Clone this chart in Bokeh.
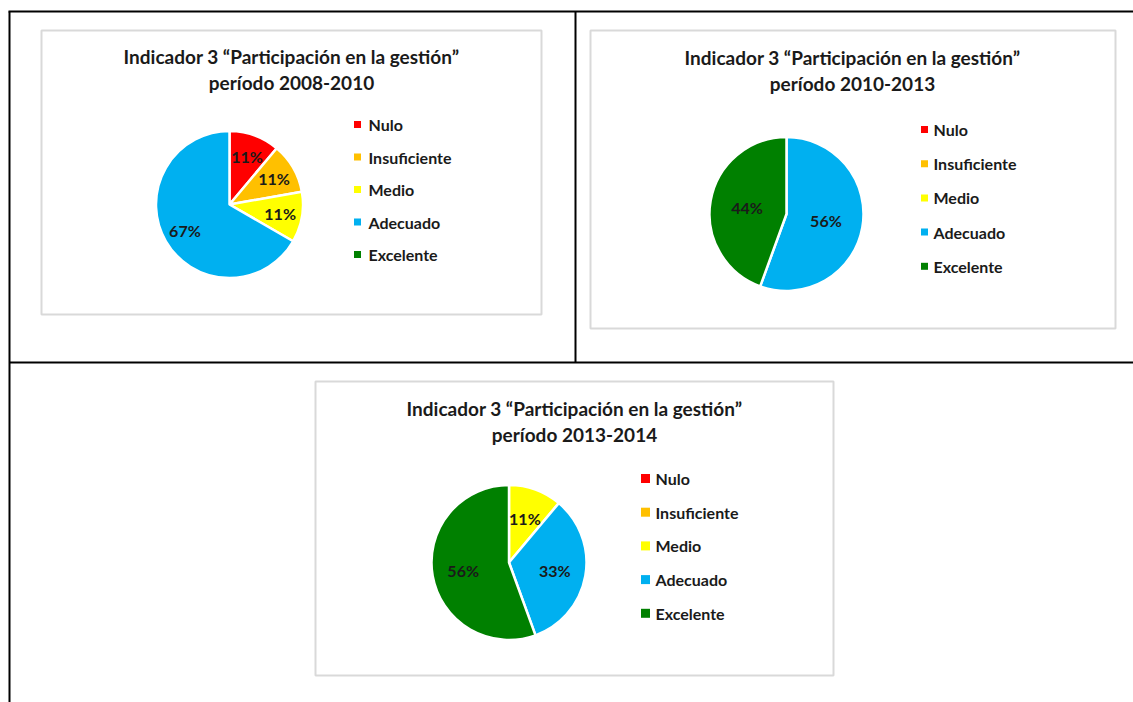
import math
from bokeh.plotting import figure
from bokeh.models import Range1d
from bokeh.core.properties import value
from bokeh.embed import file_html
from bokeh.resources import INLINE

# ---------------- data ----------------
categories = ["Nulo", "Insuficiente", "Medio", "Adecuado", "Excelente"]
colors = ["#FF0000", "#FFC000", "#FFFF00", "#00B0F0", "#008000"]
title_line1 = "Indicador 3 \u201cParticipación en la gestión\u201d"
periods = ["período 2008-2010", "período 2010-2013", "período 2013-2014"]
values_2008_2010 = [1, 1, 1, 6, 0]
values_2010_2013 = [0, 0, 0, 5, 4]
values_2013_2014 = [0, 0, 1, 3, 5]
series = [values_2008_2010, values_2010_2013, values_2013_2014]

# ---------------- layout (screen-like coordinates of the page) ----------------
W, H = 1133, 702
PAGE_H = 702


def Y(ys):
    return PAGE_H - ys


layouts = [
    dict(box=(41, 30, 541, 314), tx=291, ty=(56, 82), c=(229, 204), r=73.5,
         mx=357, lx=368, ly0=124, ldy=32.5, ms=7, f=0.7),
    dict(box=(590, 30, 1115, 328), tx=852, ty=(57, 83), c=(786, 213.5), r=77,
         mx=924, lx=933, ly0=129, ldy=34.2, ms=7, f=0.52),
    dict(box=(315, 381, 833, 675), tx=574, ty=(408, 434), c=(508.5, 562), r=77.5,
         mx=645, lx=655, ly0=478, ldy=33.7, ms=9, f=0.6),
]

FONT = value("Lato")
TXT = "#1a1a1a"

p = figure(width=W, height=H, output_backend="svg", toolbar_location=None,
           x_range=Range1d(0, W), y_range=Range1d(PAGE_H - H, PAGE_H),
           min_border=0, background_fill_color="white", border_fill_color="white")
p.axis.visible = False
p.grid.visible = False
p.outline_line_color = None

# table lines
p.segment(x0=[8, 9, 575, 9], y0=[Y(11), Y(11), Y(11), Y(362)],
          x1=[W, 9, 575, W], y1=[Y(11), Y(PAGE_H), Y(362), Y(362)],
          line_color="black", line_width=2)

for vals, per, L in zip(series, periods, layouts):
    x0, y0, x1, y1 = L["box"]
    p.quad(left=[x0], right=[x1], top=[Y(y0)], bottom=[Y(y1)],
           fill_color="white", line_color="#d9d9d9", line_width=2)
    # titles
    p.text(x=[L["tx"], L["tx"]], y=[Y(L["ty"][0]), Y(L["ty"][1])],
           text=[title_line1, per], text_font=FONT, text_font_style="bold",
           text_font_size="19px", text_align="center", text_baseline="middle",
           text_color=TXT)
    # pie
    total = sum(vals)
    cx, cy = L["c"]
    cum = 0.0
    starts, ends, cols, lxs, lys, labs = [], [], [], [], [], []
    for v, col in zip(vals, colors):
        frac = v / total
        a0 = math.pi / 2 - 2 * math.pi * cum
        a1 = math.pi / 2 - 2 * math.pi * (cum + frac)
        if v > 0:
            starts.append(a0)
            ends.append(a1)
            cols.append(col)
            mid = (a0 + a1) / 2
            lxs.append(cx + L["f"] * L["r"] * math.cos(mid))
            lys.append(Y(cy) + L["f"] * L["r"] * math.sin(mid))
            labs.append(f"{round(100 * frac)}%")
        cum += frac
    p.wedge(x=[cx] * len(starts), y=[Y(cy)] * len(starts), radius=L["r"],
            radius_units="screen", start_angle=starts, end_angle=ends,
            direction="clock", fill_color=cols, line_color="white", line_width=2.5)
    p.text(x=lxs, y=lys, text=labs, text_font=FONT, text_font_style="bold",
           text_font_size="16px", text_align="center", text_baseline="middle",
           text_color=TXT)
    # legend
    ys = [Y(L["ly0"] + i * L["ldy"]) for i in range(len(categories))]
    p.scatter(x=[L["mx"]] * len(categories), y=ys, marker="square", size=L["ms"],
              fill_color=colors, line_color=None)
    p.text(x=[L["lx"]] * len(categories), y=ys, text=categories, text_font=FONT,
           text_font_style="bold", text_font_size="16px", text_align="left",
           text_baseline="middle", text_color=TXT)

open("out.html", "w").write(file_html(p, INLINE))
